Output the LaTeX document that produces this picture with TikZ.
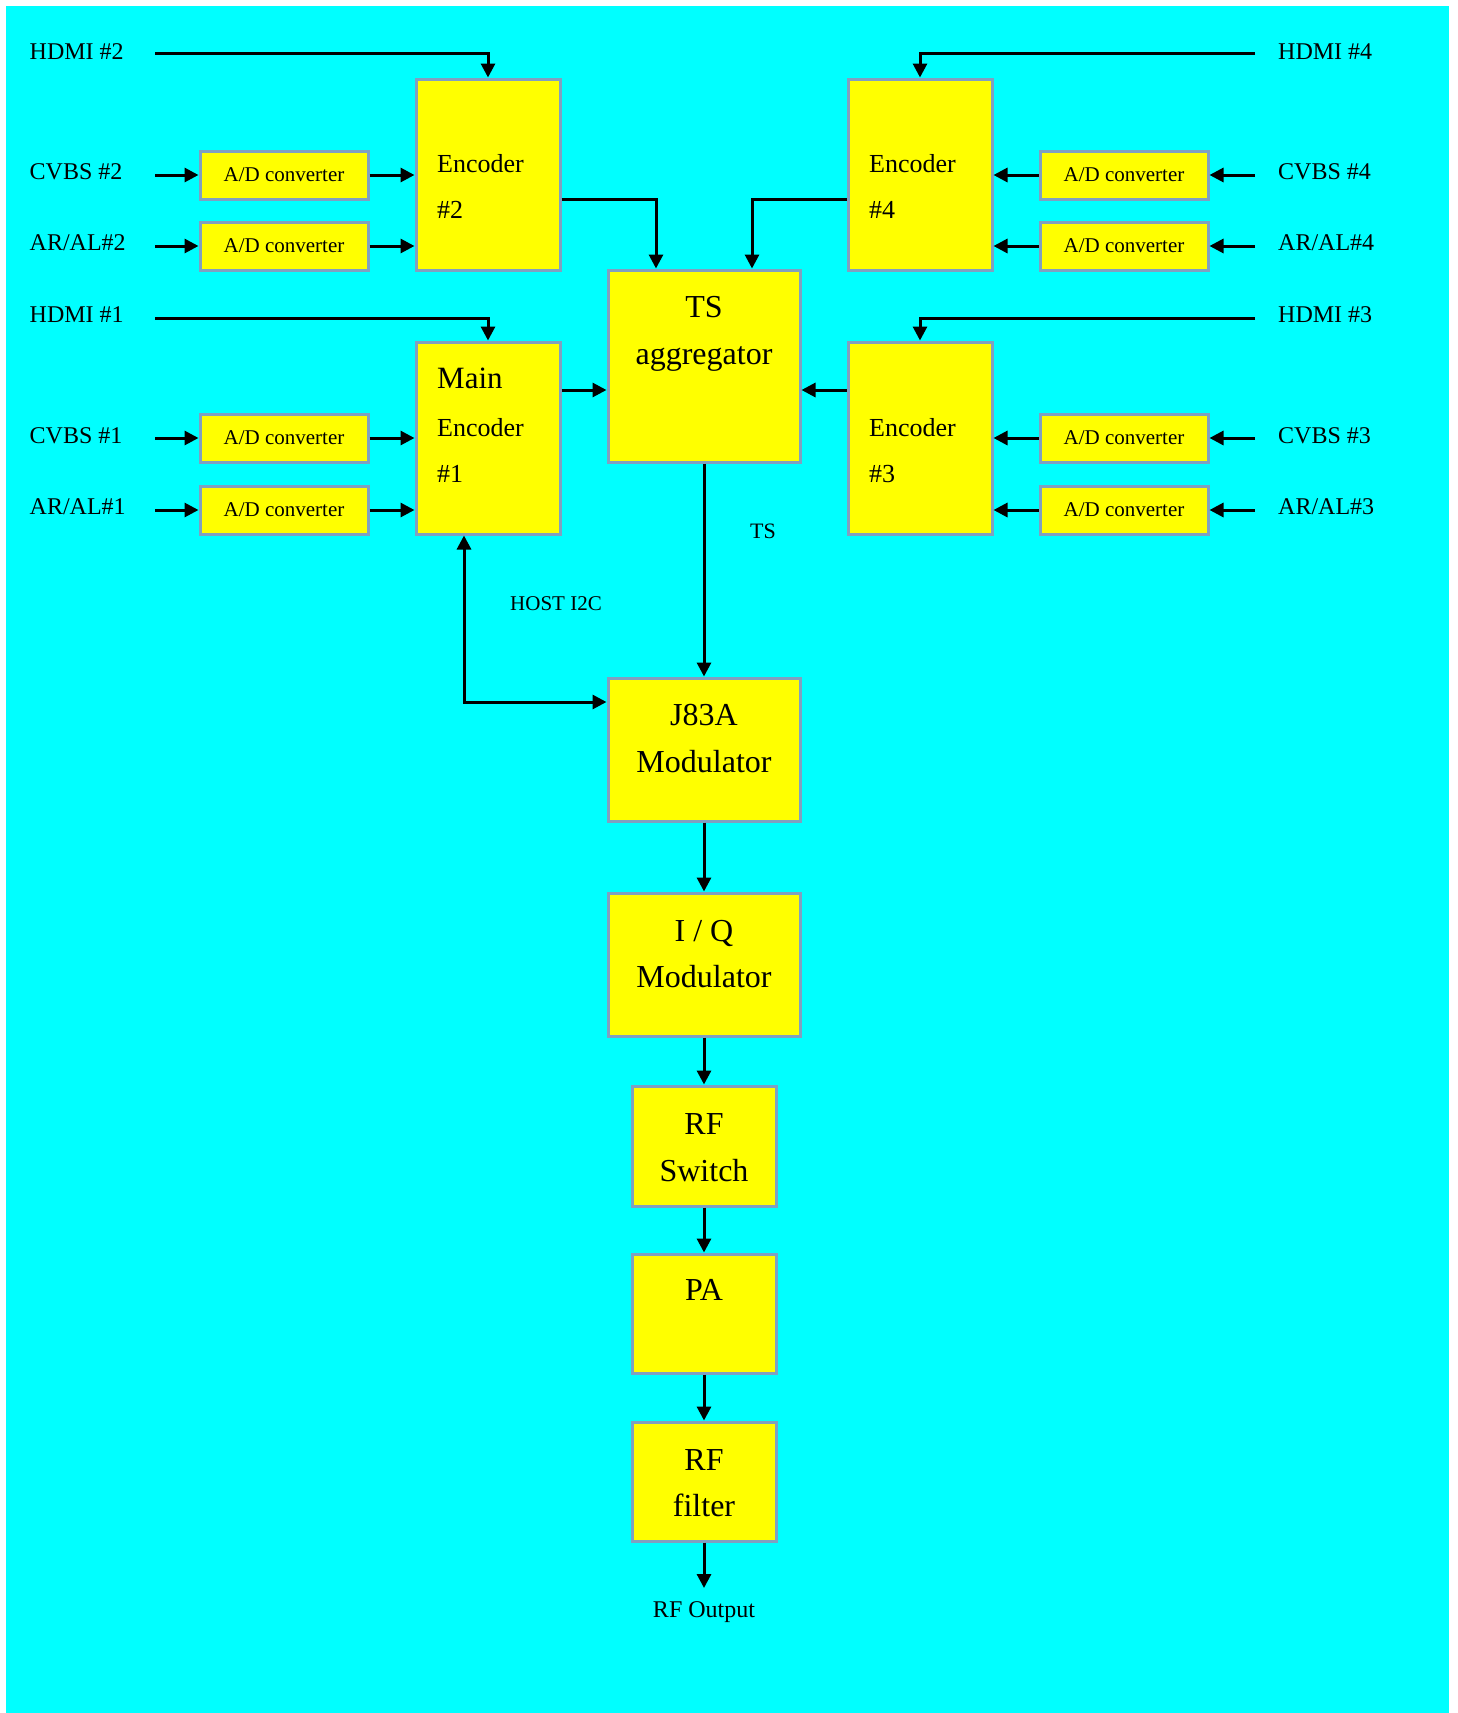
\documentclass[tikz,border=0pt]{standalone}
\usepackage{fontspec}
\setmainfont{Liberation Serif}
\usetikzlibrary{arrows.meta}
\definecolor{bgcyan}{RGB}{0,255,255}
\definecolor{boxfill}{RGB}{255,255,0}
\definecolor{boxline}{RGB}{128,160,192}
\tikzset{
  blk/.style={draw=boxline, fill=boxfill, line width=3pt, inner sep=0pt},
  adbox/.style={blk, minimum width=168pt, minimum height=48pt, font=\fontsize{21}{25}\selectfont},
  conn/.style={line width=3pt, -{Triangle[length=14pt,width=14pt]}},
  biconn/.style={line width=3pt, {Triangle[length=14pt,width=14pt]}-{Triangle[length=14pt,width=14pt]}},
  lbl/.style={inner sep=0pt, anchor=base west, font=\fontsize{24}{28}\selectfont},
  enctxt/.style={inner sep=0pt, anchor=base west, font=\fontsize{26}{30}\selectfont},
  bigtxt/.style={inner sep=0pt, anchor=base, font=\fontsize{32}{36}\selectfont},
}
\begin{document}
\begin{tikzpicture}[x=1pt,y=-1pt]
\useasboundingbox (0,0) rectangle (1458,1713);
\fill[white] (0,0) rectangle (1458,1713);
\fill[bgcyan] (5.5,5.5) rectangle (1449,1713);

% ---- boxes
\node[blk, minimum width=144pt, minimum height=191pt] (enc2) at (488,174.5) {};
\node[blk, minimum width=144pt, minimum height=191pt] (enc4) at (920,174.5) {};
\node[blk, minimum width=144pt, minimum height=192pt] (enc1) at (488,438) {};
\node[blk, minimum width=144pt, minimum height=192pt] (enc3) at (920,438) {};
\node[blk, minimum width=192pt, minimum height=192pt] (ts) at (704,366) {};
\node[blk, minimum width=192pt, minimum height=143pt] (j83) at (704,749.5) {};
\node[blk, minimum width=192pt, minimum height=143pt] (iq) at (704,964.5) {};
\node[blk, minimum width=144pt, minimum height=120pt] (rfsw) at (704,1146) {};
\node[blk, minimum width=144pt, minimum height=119pt] (pa) at (704,1313.5) {};
\node[blk, minimum width=144pt, minimum height=119pt] (rff) at (704,1481.5) {};

\node[adbox] (ad2a) at (284,175) {A/D converter};
\node[adbox] (ad2b) at (284,246) {A/D converter};
\node[adbox] (ad1a) at (284,438) {A/D converter};
\node[adbox] (ad1b) at (284,510) {A/D converter};
\node[adbox] (ad4a) at (1124,175) {A/D converter};
\node[adbox] (ad4b) at (1124,246) {A/D converter};
\node[adbox] (ad3a) at (1124,438) {A/D converter};
\node[adbox] (ad3b) at (1124,510) {A/D converter};

% ---- box texts
\node[enctxt] (enc2t1) at (437,172) {Encoder};
\node[enctxt] (enc2t2) at (437,218) {\#2};
\node[enctxt] (enc4t1) at (869,172) {Encoder};
\node[enctxt] (enc4t2) at (869,218) {\#4};
\node[inner sep=0pt, anchor=base west, font=\fontsize{31}{35}\selectfont] (enc1t0) at (437,388) {Main};
\node[enctxt] (enc1t1) at (437,436) {Encoder};
\node[enctxt] (enc1t2) at (437,482) {\#1};
\node[enctxt] (enc3t1) at (869,436) {Encoder};
\node[enctxt] (enc3t2) at (869,482) {\#3};
\node[bigtxt] (tst1) at (704,317) {TS};
\node[bigtxt] (tst2) at (704,364) {aggregator};
\node[bigtxt] (j83t1) at (704,725) {J83A};
\node[bigtxt] (j83t2) at (704,772) {Modulator};
\node[bigtxt] (iqt1) at (704,941) {I / Q};
\node[bigtxt] (iqt2) at (704,987) {Modulator};
\node[bigtxt] (rfswt1) at (704,1134) {RF};
\node[bigtxt] (rfswt2) at (704,1181) {Switch};
\node[bigtxt] (pat) at (704,1300) {PA};
\node[bigtxt] (rfft1) at (704,1470) {RF};
\node[bigtxt] (rfft2) at (704,1516) {filter};

% ---- side labels
\node[lbl] (lh2) at (29.5,59) {HDMI \#2};
\node[lbl] (lc2) at (29.5,179) {CVBS \#2};
\node[lbl] (la2) at (29.5,250) {AR/AL\#2};
\node[lbl] (lh1) at (29.5,322) {HDMI \#1};
\node[lbl] (lc1) at (29.5,443) {CVBS \#1};
\node[lbl] (la1) at (29.5,514) {AR/AL\#1};
\node[lbl] (rh4) at (1278,59) {HDMI \#4};
\node[lbl] (rc4) at (1278,179) {CVBS \#4};
\node[lbl] (ra4) at (1278,250) {AR/AL\#4};
\node[lbl] (rh3) at (1278,322) {HDMI \#3};
\node[lbl] (rc3) at (1278,443) {CVBS \#3};
\node[lbl] (ra3) at (1278,514) {AR/AL\#3};

\node[inner sep=0pt, anchor=base west, font=\fontsize{22}{26}\selectfont] (tslbl) at (750,538) {TS};
\node[inner sep=0pt, anchor=base west, font=\fontsize{21}{25}\selectfont] (hostlbl) at (510,610) {HOST I2C};
\node[inner sep=0pt, anchor=base, font=\fontsize{24}{28}\selectfont] (rfout) at (704,1617) {RF Output};

% ---- free ends
\coordinate (sh2) at (155,53.5);
\coordinate (sc2) at (155,175);
\coordinate (sa2) at (155,246);
\coordinate (sh1) at (155,318);
\coordinate (sc1) at (155,438);
\coordinate (sa1) at (155,510);
\coordinate (sh4) at (1255,53.5);
\coordinate (sc4) at (1255,175);
\coordinate (sa4) at (1255,246);
\coordinate (sh3) at (1255,318);
\coordinate (sc3) at (1255,438);
\coordinate (sa3) at (1255,510);
\coordinate (outend) at (704,1588);

% ---- left side connectors
\draw[conn] (sh2) -| (enc2.north);
\draw[conn] (sc2) -- (ad2a.west);
\draw[conn] (sa2) -- (ad2b.west);
\draw[conn] (ad2a.east) -- (ad2a.east -| enc2.west);
\draw[conn] (ad2b.east) -- (ad2b.east -| enc2.west);
\draw[conn] (sh1) -| (enc1.north);
\draw[conn] (sc1) -- (ad1a.west);
\draw[conn] (sa1) -- (ad1b.west);
\draw[conn] (ad1a.east) -- (ad1a.east -| enc1.west);
\draw[conn] (ad1b.east) -- (ad1b.east -| enc1.west);

% ---- right side connectors
\draw[conn] (sh4) -| (enc4.north);
\draw[conn] (sc4) -- (ad4a.east);
\draw[conn] (sa4) -- (ad4b.east);
\draw[conn] (ad4a.west) -- (ad4a.west -| enc4.east);
\draw[conn] (ad4b.west) -- (ad4b.west -| enc4.east);
\draw[conn] (sh3) -| (enc3.north);
\draw[conn] (sc3) -- (ad3a.east);
\draw[conn] (sa3) -- (ad3b.east);
\draw[conn] (ad3a.west) -- (ad3a.west -| enc3.east);
\draw[conn] (ad3b.west) -- (ad3b.west -| enc3.east);

% ---- encoders to TS aggregator
\draw[conn] (enc2.east |- {(0,199)}) -| ([xshift=-48pt]ts.north);
\draw[conn] (enc4.west |- {(0,199)}) -| ([xshift=48pt]ts.north);
\draw[conn] (enc1.east |- {(0,390)}) -- (ts.west |- {(0,390)});
\draw[conn] (enc3.west |- {(0,390)}) -- (ts.east |- {(0,390)});

% ---- main chain
\draw[conn] (ts.south) -- (j83.north);
\draw[biconn] (enc1.south -| {(464,0)}) |- (j83.west |- {(0,702)});
\draw[conn] (j83.south) -- (iq.north);
\draw[conn] (iq.south) -- (rfsw.north);
\draw[conn] (rfsw.south) -- (pa.north);
\draw[conn] (pa.south) -- (rff.north);
\draw[conn] (rff.south) -- (outend);
\end{tikzpicture}
\end{document}
